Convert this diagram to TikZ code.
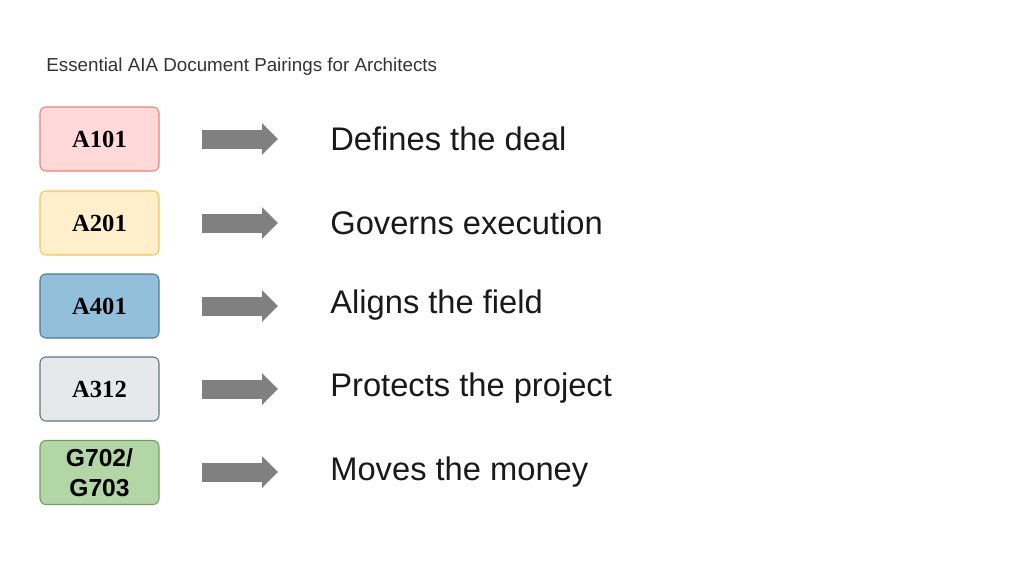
\documentclass[tikz,border=0pt]{standalone}
\usepackage{fontspec}
\setmainfont{Liberation Sans}
\newfontfamily\codefont{Liberation Serif}
\usetikzlibrary{arrows.meta}

\definecolor{redfill}{HTML}{FFD9D9}
\definecolor{redline}{HTML}{EE8077}
\definecolor{yellowfill}{HTML}{FFEFCB}
\definecolor{yellowline}{HTML}{FCC24E}
\definecolor{bluefill}{HTML}{92BFD9}
\definecolor{blueline}{HTML}{4E7894}
\definecolor{grayfill}{HTML}{E6E9EC}
\definecolor{grayline}{HTML}{5E7484}
\definecolor{greenfill}{HTML}{B3D6A6}
\definecolor{greenline}{HTML}{6FA060}
\definecolor{arrowgray}{HTML}{808080}

\tikzset{
  docbox/.style={draw, line width=0.6pt, rounded corners=0.12cm,
    minimum width=2.38cm, minimum height=1.28cm, inner sep=0pt,
    align=center, font=\codefont\bfseries\fontsize{14}{15}\selectfont},
  pairtext/.style={anchor=west, inner sep=0pt, text=black!90,
    font=\fontsize{18.6}{22}\selectfont},
  bigarrow/.style={arrowgray, line width=0.38cm,
    -{Triangle[length=0.32cm, width=0.62cm]}}
}

\begin{document}
\begin{tikzpicture}[x=0.02cm, y=-0.02cm]
\useasboundingbox (0,0) rectangle (1024,576);

\node[anchor=west, inner sep=0pt, text=black!80, font=\fontsize{10.7}{12}\selectfont]
  (title) at (46,67) {Essential AIA Document Pairings for Architects};

% document boxes
\node[docbox, fill=redfill, draw=redline] (a101) at (99.5,139) {A101};
\node[docbox, fill=yellowfill, draw=yellowline] (a201) at (99.5,223) {A201};
\node[docbox, fill=bluefill, draw=blueline] (a401) at (99.5,306) {A401};
\node[docbox, fill=grayfill, draw=grayline] (a312) at (99.5,389) {A312};
\node[docbox, fill=greenfill, draw=greenline, font=\bfseries\fontsize{14}{17}\selectfont]
  (g702) at (99.5,472.5) {G702/\\G703};

% what each one does
\node[pairtext] (t1) at (330,138.5) {Defines the deal};
\node[pairtext] (t2) at (330,222.5) {Governs execution};
\node[pairtext] (t3) at (330,305.5) {Aligns the field};
\node[pairtext] (t4) at (330,388.5) {Protects the project};
\node[pairtext] (t5) at (330,472.5) {Moves the money};

% arrows
\coordinate (s1) at (202,139); \coordinate (e1) at (278,139);
\coordinate (s2) at (202,223); \coordinate (e2) at (278,223);
\coordinate (s3) at (202,306); \coordinate (e3) at (278,306);
\coordinate (s4) at (202,389); \coordinate (e4) at (278,389);
\coordinate (s5) at (202,472); \coordinate (e5) at (278,472);

\draw[bigarrow] (s1) -- (e1);
\draw[bigarrow] (s2) -- (e2);
\draw[bigarrow] (s3) -- (e3);
\draw[bigarrow] (s4) -- (e4);
\draw[bigarrow] (s5) -- (e5);
\end{tikzpicture}
\end{document}
